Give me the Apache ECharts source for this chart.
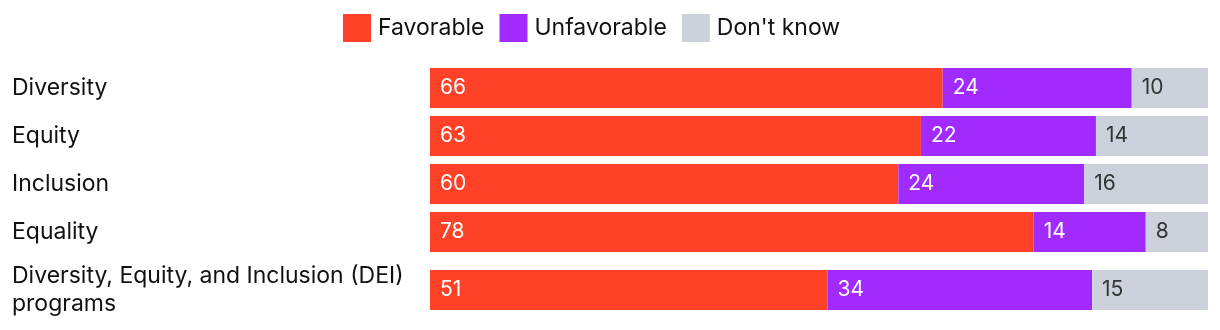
<!DOCTYPE html>
<html><head><meta charset="utf-8">
<script src="https://cdn.jsdelivr.net/npm/echarts@6/dist/echarts.min.js"></script>
<style>html,body{margin:0;padding:0;background:#fff}#c{width:1220px;height:330px}</style>
</head><body><div id="c"></div>
<script>
const categories = ["Diversity", "Equity", "Inclusion", "Equality", "Diversity, Equity, and Inclusion (DEI)\nprograms"];
// bar shares (%)
const favorable = [65.9, 63.1, 60.2, 77.6, 51.1];
const unfavorable = [24.3, 22.5, 23.9, 14.4, 34.0];
const dontKnow = [9.8, 14.4, 15.9, 8.0, 14.9];
// printed labels
const favorableLabels = [66, 63, 60, 78, 51];
const unfavorableLabels = [24, 22, 24, 14, 34];
const dontKnowLabels = [10, 14, 16, 8, 15];
const seriesNames = ["Favorable", "Unfavorable", "Don't know"];
const colors = ["#FF4127", "#A12AFF", "#CDD1DB"];
const labelColors = ["#ffffff", "#ffffff", "#333333"];
const rowTops = [68, 116, 164, 212, 270];
const rowHeight = 40;

const FONT = "Inter";
const grids = [], xAxes = [], yAxes = [], series = [];
const values = [favorable, unfavorable, dontKnow];
const labels = [favorableLabels, unfavorableLabels, dontKnowLabels];
categories.forEach((cat, i) => {
  grids.push({left: 430, right: 12, top: rowTops[i], height: rowHeight, containLabel: false});
  xAxes.push({type: 'value', gridIndex: i, min: 0, max: 100, show: false});
  yAxes.push({type: 'category', gridIndex: i, data: [cat],
    axisLine: {show: false}, axisTick: {show: false},
    axisLabel: {align: 'left', margin: 418, fontFamily: FONT, fontSize: 23, color: '#111', lineHeight: 28}});
  seriesNames.forEach((name, s) => {
    series.push({
      name, type: 'bar', stack: 'row' + i, xAxisIndex: i, yAxisIndex: i,
      barWidth: '100%', data: [values[s][i]],
      itemStyle: {color: colors[s]},
      label: {show: true, position: 'insideLeft', distance: 10, color: labelColors[s],
        fontFamily: FONT, fontSize: 21, formatter: () => String(labels[s][i])},
      silent: true, animation: false
    });
  });
});

const chart = echarts.init(document.getElementById('c'), null, {renderer: 'canvas'});
chart.setOption({
  animation: false,
  color: colors,
  legend: {
    data: seriesNames, left: 343, top: 14, padding: 0, itemWidth: 28, itemHeight: 28, itemGap: 15,
    icon: 'rect', textStyle: {fontFamily: FONT, fontSize: 23, color: '#111', padding: [0, 0, 0, 2]}
  },
  grid: grids, xAxis: xAxes, yAxis: yAxes, series
});
</script></body></html>
